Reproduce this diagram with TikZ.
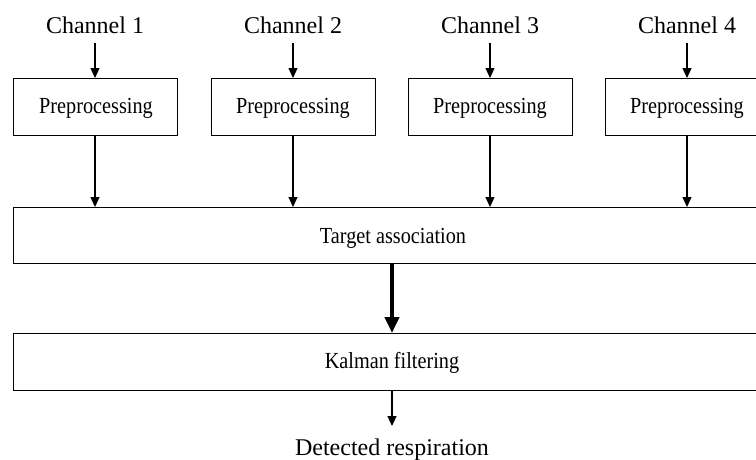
\documentclass[tikz,border=0pt]{standalone}
\usepackage{fontspec}
\setmainfont{Liberation Serif}
\usetikzlibrary{arrows.meta}
\tikzset{
  x=1pt, y=-1pt,
  box/.style={draw, line width=1.3pt, rectangle, inner sep=0pt, anchor=north west},
  lbl/.style={font=\fontsize{24}{28}\selectfont, inner sep=0pt, anchor=base},
  boxtext/.style={font=\fontsize{23}{27}\selectfont, inner sep=0pt, anchor=base},
  arr/.style={line width=1.2pt, -{Triangle[length=10pt,width=9pt]}},
  bigarr/.style={line width=4pt, -{Triangle[length=16pt,width=14pt]}},
}
\newcommand{\sq}[1]{\scalebox{0.88}[1]{#1}}
\begin{document}
\begin{tikzpicture}
\clip (0,0) rectangle (756,459);
% channel labels
\node[lbl] (c1) at (95,33) {Channel 1};
\node[lbl] (c2) at (293,33) {Channel 2};
\node[lbl] (c3) at (490,33) {Channel 3};
\node[lbl] (c4) at (687,33) {Channel 4};
% preprocessing boxes
\node[box, minimum width=164pt, minimum height=57pt] (p1) at (13,78) {};
\node[box, minimum width=164pt, minimum height=57pt] (p2) at (211,78) {};
\node[box, minimum width=164pt, minimum height=57pt] (p3) at (408,78) {};
\node[box, minimum width=164pt, minimum height=57pt] (p4) at (605,78) {};
\node[boxtext] (t1) at (96,113) {\sq{Preprocessing}};
\node[boxtext] (t2) at (293,113) {\sq{Preprocessing}};
\node[boxtext] (t3) at (490,113) {\sq{Preprocessing}};
\node[boxtext] (t4) at (687,113) {\sq{Preprocessing}};
% big boxes
\node[box, minimum width=758pt, minimum height=56pt] (ta) at (13,207) {};
\node[boxtext] (tat) at (393,243) {\sq{Target association}};
\node[box, minimum width=758pt, minimum height=57pt] (kf) at (13,333) {};
\node[boxtext] (kft) at (392,368) {\sq{Kalman filtering}};
% output
\node[lbl] (out) at (392,455) {Detected respiration};
% arrows
\foreach \i in {1,2,3,4}{
  \draw[arr] ([yshift=-10pt]c\i.base) -- (c\i.base |- p\i.north);
  \draw[arr] (c\i.base |- p\i.south) -- (c\i.base |- ta.north);
}
\draw[bigarr] (kft.base |- ta.south) -- (kft.base |- kf.north);
\draw[arr] (out.base |- kf.south) -- ([yshift=29pt]out.base);
\end{tikzpicture}
\end{document}
